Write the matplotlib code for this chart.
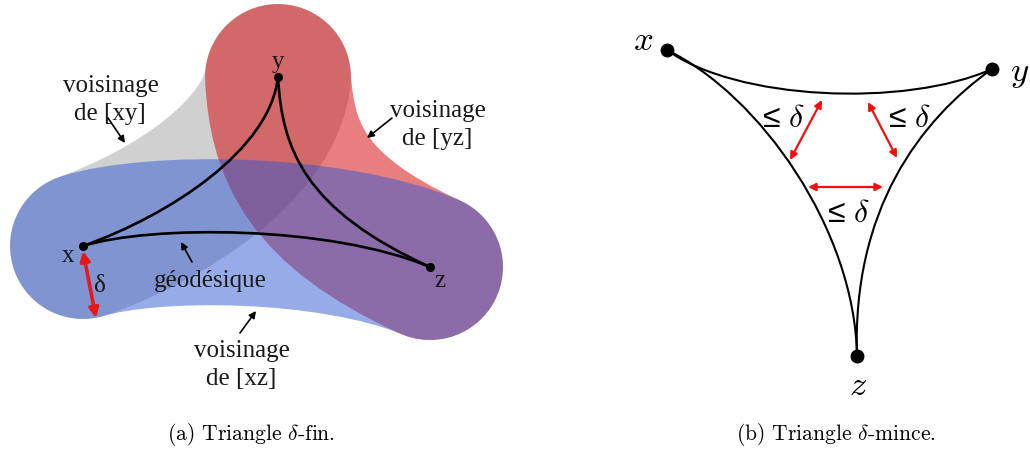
import matplotlib
matplotlib.use('agg')
import matplotlib.pyplot as plt
from matplotlib.path import Path
from matplotlib.patches import PathPatch

plt.rcParams['mathtext.fontset'] = 'cm'

## panel (a): vertices and geodesics (figure pixels, y downwards)
pt_x_a = (83, 246)
pt_y_a = (278, 77)
pt_z_a = (430, 267)
# cubic bezier control points of the geodesics
geo_xy_a = [pt_x_a, (170, 215), (270, 150), pt_y_a]
geo_yz_a = [pt_y_a, (282, 150), (305, 210), pt_z_a]
geo_xz_a = [pt_x_a, (150, 225), (330, 225), pt_z_a]
# neighbourhoods: grey [xy], red [yz], blue [xz]
tube_geos = [geo_xy_a, geo_yz_a, geo_xz_a]
tube_colors = ['#808080', '#d30b0b', '#2f59d1']
tube_alphas = [0.37, 0.52, 0.5]
tube_width = 146  # px

# labels of panel (a): text, x, baseline
labels_a = [('voisinage', 111, 92), ('de [xy]', 110, 120),
            ('voisinage', 438, 117), ('de [yz]', 437, 145),
            ('géodésique', 210, 287),
            ('voisinage', 242, 357), ('de [xz]', 241, 385),
            ('x', 68, 262), ('y', 278, 68), ('z', 440, 287),
            ('δ', 100, 292)]
# small black arrows (tail -> head)
ann_tails = [(108, 118), (392, 118), (192, 262), (240, 333)]
ann_heads = [(125, 143), (367, 138), (181, 242), (256, 311)]
# red delta arrow
delta_a = [(83, 251), (96, 318)]

## panel (b)
pt_x_b = (667, 50)
pt_y_b = (992, 69)
pt_z_b = (857, 356)
geo_xy_b = [pt_x_b, (735, 100), (905, 108), pt_y_b]
geo_xz_b = [pt_x_b, (760, 95), (855, 230), pt_z_b]
geo_yz_b = [pt_y_b, (920, 120), (852, 210), pt_z_b]
labels_b = [('$x$', 643, 50), ('$y$', 1020, 81), ('$z$', 858, 395)]
leq_labels = [(783, 127), (909, 127), (848, 222)]
red_tails = [(822, 100), (868, 102), (808, 187)]
red_heads = [(790, 160), (897, 158), (883, 187)]

captions = [(r'(a) Triangle $\delta$-fin.', 251, 440),
            (r'(b) Triangle $\delta$-mince.', 836, 440)]

dpi = 100
fig = plt.figure(figsize=(10.3, 4.58), dpi=dpi)
ax = fig.add_axes([0, 0, 1, 1])
ax.set_xlim(0, 1030)
ax.set_ylim(458, 0)
ax.axis('off')

codes = [Path.MOVETO, Path.CURVE4, Path.CURVE4, Path.CURVE4]

# neighbourhoods as wide round-capped strokes
for geo, c, a in zip(tube_geos, tube_colors, tube_alphas):
    ax.add_patch(PathPatch(Path(geo, codes), facecolor='none', edgecolor=c,
                           alpha=a, lw=tube_width * 72.0 / dpi,
                           capstyle='round', joinstyle='round'))

# geodesics
for geo in [geo_xy_a, geo_yz_a, geo_xz_a]:
    ax.add_patch(PathPatch(Path(geo, codes), facecolor='none',
                           edgecolor='k', lw=1.9))
for geo in [geo_xy_b, geo_xz_b, geo_yz_b]:
    ax.add_patch(PathPatch(Path(geo, codes), facecolor='none',
                           edgecolor='k', lw=1.5))

for p in [pt_x_a, pt_y_a, pt_z_a]:
    ax.plot(p[0], p[1], 'o', color='k', ms=5.5)
for p in [pt_x_b, pt_y_b, pt_z_b]:
    ax.plot(p[0], p[1], 'o', color='k', ms=9)

for s, x, y in labels_a:
    ax.text(x, y, s, ha='center', va='baseline', fontsize=18,
            family='Liberation Serif', color='#1a1a1a')

for t, h in zip(ann_tails, ann_heads):
    ax.annotate('', xy=h, xytext=t,
                arrowprops=dict(arrowstyle='-|>', color='k', lw=1.2,
                                mutation_scale=10, shrinkA=0, shrinkB=0))

ax.annotate('', xy=delta_a[1], xytext=delta_a[0],
            arrowprops=dict(arrowstyle='<|-|>', color='#e81818', lw=2.6,
                            mutation_scale=14, shrinkA=0, shrinkB=0))

for s, x, y in labels_b:
    ax.text(x, y, s, ha='center', va='baseline', fontsize=25)
for x, y in leq_labels:
    ax.text(x, y, r'≤ $\delta$', ha='center', va='baseline', fontsize=23,
            family=['Liberation Sans', 'DejaVu Sans'])
for t, h in zip(red_tails, red_heads):
    ax.annotate('', xy=h, xytext=t,
                arrowprops=dict(arrowstyle='<|-|>', color='#f01010', lw=1.6,
                                mutation_scale=11, shrinkA=0, shrinkB=0))

for s, x, y in captions:
    ax.text(x, y, s, ha='center', va='baseline', fontsize=15.5, family='cmr10')

plt.savefig('out.png', dpi=dpi)
